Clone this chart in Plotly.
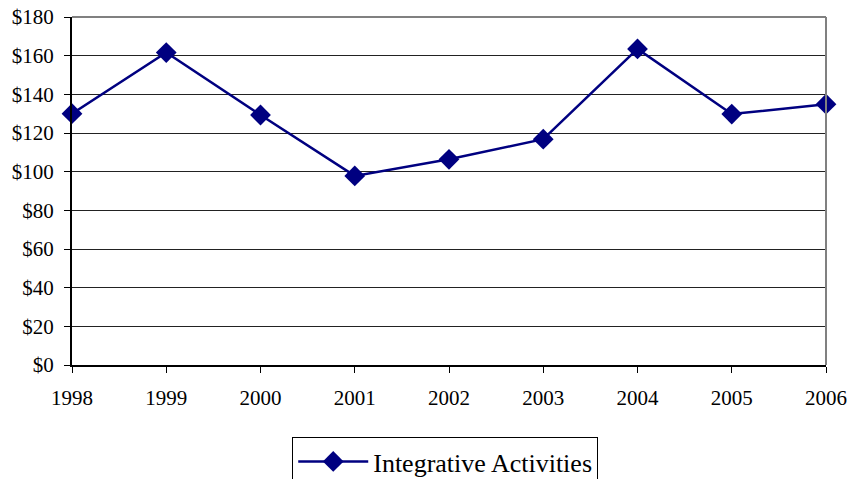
import plotly.graph_objects as go

years = [1998, 1999, 2000, 2001, 2002, 2003, 2004, 2005, 2006]
values = [130, 161.6, 129.3, 97.8, 106.4, 116.8, 163.5, 129.8, 134.9]
series_name = "Integrative Activities"
y_ticks = [0, 20, 40, 60, 80, 100, 120, 140, 160, 180]
y_tick_labels = ["$" + str(v) for v in y_ticks]

fig = go.Figure()
fig.add_trace(go.Scatter(
    x=years, y=values, mode="lines+markers", name=series_name,
    line=dict(color="#000080", width=2.5),
    marker=dict(symbol="diamond", size=16, color="#000080"),
    cliponaxis=False,
))

fig.update_layout(
    width=850, height=479,
    margin=dict(l=72, r=24, t=17, b=114, autoexpand=False),
    paper_bgcolor="white", plot_bgcolor="white",
    font=dict(family="Liberation Serif", size=21, color="black"),
    showlegend=True,
    legend=dict(
        orientation="h", x=0.495, xanchor="center", y=-0.207, yanchor="top",
        bordercolor="black", borderwidth=1, font=dict(size=26),
        itemwidth=70,
    ),
    xaxis=dict(
        range=[1998, 2006], tickmode="array", tickvals=years,
        ticktext=[str(y) for y in years],
        showline=True, linecolor="black", linewidth=2,
        ticks="outside", ticklen=6, tickcolor="black",
        showgrid=False, zeroline=False, automargin=False,
        ticklabelstandoff=7,
    ),
    yaxis=dict(
        range=[0, 180], tickmode="array", tickvals=y_ticks, ticktext=y_tick_labels,
        showline=True, linecolor="black", linewidth=2,
        ticks="outside", ticklen=6, tickcolor="black",
        showgrid=True, gridcolor="#222222", gridwidth=1, zeroline=False,
        automargin=False, ticklabelstandoff=6,
    ),
)
fig.add_shape(type="line", xref="paper", yref="paper", x0=0, x1=1, y0=1, y1=1,
              line=dict(color="#808080", width=2))
fig.add_shape(type="line", xref="paper", yref="paper", x0=1, x1=1, y0=0, y1=1,
              line=dict(color="#808080", width=2))

fig.write_html("out.html", config={"displayModeBar": False},
               post_script="document.body.style.margin='0';")
